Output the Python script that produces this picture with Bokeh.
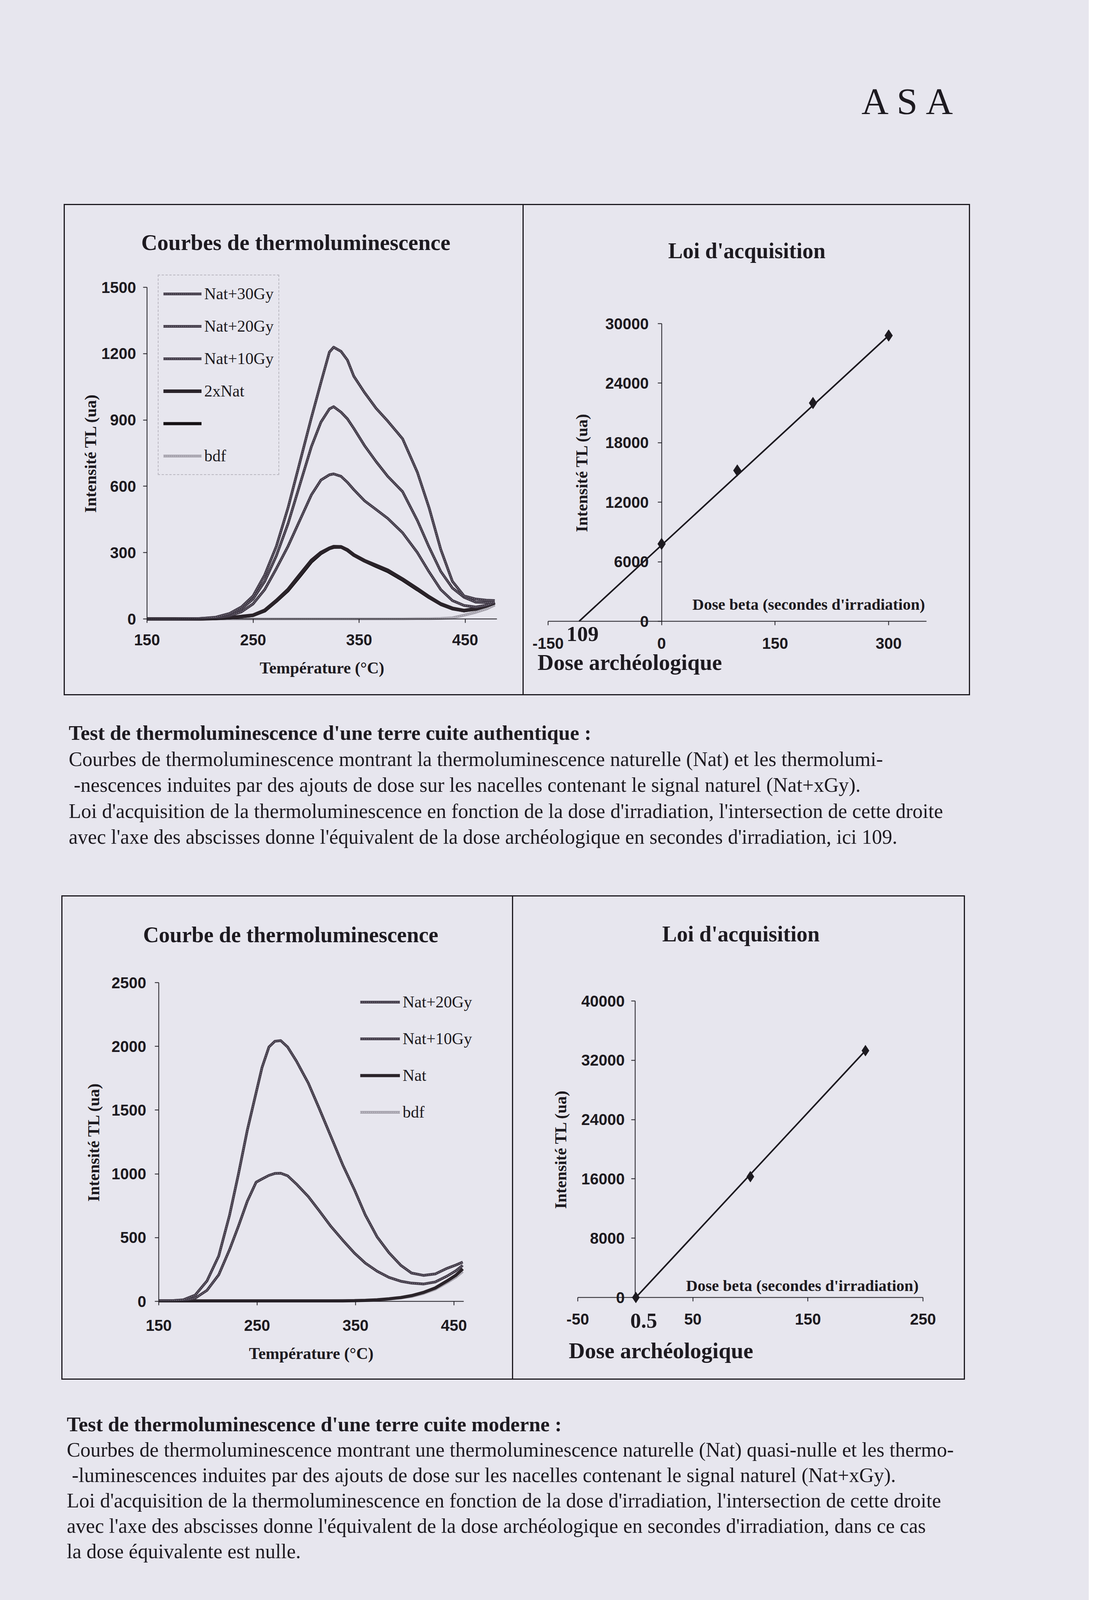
from bokeh.plotting import figure
from bokeh.models import Range1d, FixedTicker, Label, Legend, LegendItem, Div, Spacer
from bokeh.layouts import row, column
from bokeh.embed import file_html
from bokeh.resources import INLINE

BG = "#e7e6ee"
INK = "#1d1a20"
CURVE = "#433c49"
CURVE_HI = "#8a8491"
NAT2 = "#2a2329"
NAT = "#151114"
BDF = "#a4a1ab"
BDF_HI = "#d3d0d9"

# ---------------- data: authentic terracotta ----------------
tl_temp = [150, 175, 200, 215, 228, 239, 250, 261, 272, 283, 294, 305, 314, 322, 326,
           333, 339, 345, 355, 366, 377, 391, 405, 416, 427, 438, 449, 460, 470, 478]
tl_nat30 = [0, 0, 2, 8, 25, 54, 104, 199, 329, 503, 706, 910, 1069, 1207, 1229,
            1210, 1171, 1098, 1025, 953, 895, 815, 663, 503, 315, 170, 104, 90, 85, 83]
tl_nat20 = [0, 0, 2, 6, 20, 46, 90, 170, 286, 431, 605, 779, 890, 950, 960,
            935, 905, 862, 785, 712, 645, 576, 445, 325, 215, 140, 98, 76, 74, 76]
tl_nat10 = [0, 0, 1, 5, 15, 32, 68, 133, 228, 329, 445, 561, 628, 652, 656,
            645, 618, 585, 535, 495, 455, 390, 300, 213, 133, 83, 61, 54, 62, 75]
tl_2xnat = [0, 0, 0, 2, 6, 11, 17, 39, 83, 133, 199, 264, 300, 320, 327,
            326, 312, 290, 264, 242, 220, 180, 136, 100, 68, 48, 38, 46, 60, 75]
tl_nat = [0, 0, 0, 2, 5, 10, 16, 36, 80, 128, 192, 258, 296, 318, 324,
          325, 310, 288, 262, 238, 215, 176, 132, 97, 66, 46, 37, 44, 58, 72]
tl_bdf = [0, 0, 0, 0, 0, 0, 0, 0, 0, 0, 0, 0, 0, 0, 0,
          0, 0, 0, 0, 0, 0, 0, 1, 1, 2, 5, 17, 30, 45, 63]
tl_xticks = [150, 250, 350, 450]
tl_yticks = [0, 300, 600, 900, 1200, 1500]

tr_dose = [0, 100, 200, 300]
tr_tl = [7800, 15200, 22000, 28800]
tr_fit_dose = [-109, 300]
tr_fit_tl = [0, 28800]
tr_xticks = [-150, 0, 150, 300]
tr_yticks = [0, 6000, 12000, 18000, 24000, 30000]

# ---------------- data: modern terracotta ----------------
bl_temp = [150, 165, 175, 187, 199, 211, 222, 231, 240, 249, 255, 262, 268, 274, 281, 290,
           302, 313, 325, 337, 349, 360, 372, 384, 396, 407, 419, 431, 443, 452, 459]
bl_nat20 = [5, 6, 12, 49, 160, 357, 677, 998, 1342, 1638, 1835, 1995, 2040, 2045, 1995, 1884,
            1712, 1515, 1293, 1071, 874, 677, 505, 382, 283, 222, 204, 215, 259, 285, 308]
bl_nat10 = [5, 6, 10, 25, 86, 209, 406, 590, 785, 935, 960, 988, 1003, 1005, 985, 920,
            822, 712, 588, 480, 378, 300, 236, 188, 158, 143, 136, 152, 198, 240, 283]
bl_nat = [4, 4, 4, 4, 4, 4, 4, 4, 4, 4, 4, 4, 4, 4, 4, 4,
          4, 4, 4, 4, 5, 8, 12, 20, 30, 45, 70, 105, 160, 205, 255]
bl_bdf = [6, 6, 6, 6, 6, 6, 6, 6, 6, 6, 6, 6, 6, 6, 6, 6,
          6, 6, 6, 7, 8, 10, 12, 18, 27, 38, 62, 95, 148, 190, 234]
bl_xticks = [150, 250, 350, 450]
bl_yticks = [0, 500, 1000, 1500, 2000, 2500]

br_dose = [0.5, 100, 200]
br_tl = [0, 16300, 33300]
br_fit_dose = [0.5, 200]
br_fit_tl = [0, 33300]
br_xticks = [-50, 50, 150, 250]
br_yticks = [0, 8000, 16000, 24000, 32000, 40000]

para1_lines = [
    "Test de thermoluminescence d'une terre cuite authentique :",
    "Courbes de thermoluminescence montrant la thermoluminescence naturelle (Nat) et les thermolumi-",
    "&nbsp;-nescences induites par des ajouts de dose sur les nacelles contenant le signal naturel (Nat+xGy).",
    "Loi d'acquisition de la thermoluminescence en fonction de la dose d'irradiation, l'intersection de cette droite",
    "avec l'axe des abscisses donne l'équivalent de la dose archéologique en secondes d'irradiation, ici 109.",
]
para2_lines = [
    "Test de thermoluminescence d'une terre cuite moderne :",
    "Courbes de thermoluminescence montrant une thermoluminescence naturelle (Nat) quasi-nulle et les thermo-",
    "&nbsp;-luminescences induites par des ajouts de dose sur les nacelles contenant le signal naturel (Nat+xGy).",
    "Loi d'acquisition de la thermoluminescence en fonction de la dose d'irradiation, l'intersection de cette droite",
    "avec l'axe des abscisses donne l'équivalent de la dose archéologique en secondes d'irradiation, dans ce cas",
    "la dose équivalente est nulle.",
]


def frame_fig(x0, y0, w, h, fl, fr, ft, fb, xr, yr, yaxis_at):
    """Figure whose whole canvas is the frame; the axes sit at fixed locations
    so that nothing placed around the plot area is clipped."""
    kx = (fr - fl) / (xr[1] - xr[0])
    ky = (fb - ft) / (yr[1] - yr[0])
    xs = xr[0] - (fl - x0) / kx
    xe = xr[1] + (x0 + w - fr) / kx
    ys = yr[0] - (y0 + h - fb) / ky
    ye = yr[1] + (ft - y0) / ky
    p = figure(width=w, height=h, x_range=Range1d(xs, xe), y_range=Range1d(ys, ye),
               output_backend="svg", toolbar_location=None, min_border=0,
               background_fill_color=BG, border_fill_color=BG, outline_line_color=None)
    p.grid.visible = False
    p.xaxis.fixed_location = yr[0]
    p.xaxis.bounds = tuple(xr)
    p.yaxis.fixed_location = yaxis_at
    p.yaxis.bounds = tuple(yr)
    for ax in p.axis:
        ax.axis_line_color = INK
        ax.axis_line_width = 2
        ax.major_tick_line_color = INK
        ax.major_tick_line_width = 2
        ax.major_tick_in = 0
        ax.major_tick_out = 10
        ax.minor_tick_line_color = None
        ax.major_label_text_font = "Liberation Sans"
        ax.major_label_text_font_style = "bold"
        ax.major_label_text_font_size = "40px"
        ax.major_label_text_color = INK
        ax.axis_label_text_font = "Liberation Serif"
        ax.axis_label_text_font_style = "bold"
        ax.axis_label_text_font_size = "42px"
        ax.axis_label_text_color = INK
    return p


def lab(p, x, y, text, size, align="left"):
    p.add_layout(Label(x=x, y=y, y_offset=19, text=text, text_font="Liberation Serif",
                       text_font_size=f"{size}px", text_font_style="bold",
                       text_color=INK, text_align=align, text_baseline="alphabetic"))


def textured(p, xs, ys, base, hi, w):
    r1 = p.line(xs, ys, line_color=base, line_width=w, line_join="round")
    r2 = p.line(xs, ys, line_color=hi, line_width=max(2, w // 3), line_dash="2 3")
    return [r1, r2]


def style_legend(lg, spacing):
    lg.label_text_font = "Liberation Serif"
    lg.label_text_font_size = "42px"
    lg.label_text_color = INK
    lg.label_height = 70
    lg.glyph_height = 40
    lg.spacing = spacing
    lg.padding = 12
    lg.margin = 0
    lg.label_standoff = 7
    lg.background_fill_alpha = 0


# ---------------- top-left ----------------
X0, Y0 = 174, 533
p_tl = frame_fig(X0, Y0, 1172, 1252, 384, 1280, 743, 1592, (150, 480), (0, 1500), 150)
p_tl.xaxis.ticker = FixedTicker(ticks=tl_xticks)
p_tl.yaxis.ticker = FixedTicker(ticks=tl_yticks)
p_tl.xaxis.axis_label = "Température (°C)"
p_tl.yaxis.axis_label = "Intensité TL (ua)"
p_tl.yaxis.major_label_standoff = 18
p_tl.yaxis.axis_label_standoff = 2
p_tl.xaxis.major_label_standoff = 29
p_tl.xaxis.axis_label_standoff = 32

r_bdf = textured(p_tl, tl_temp, tl_bdf, BDF, BDF_HI, 7)
r_nat = [p_tl.line(tl_temp, tl_nat, line_color=NAT, line_width=8)]
r_2x = [p_tl.line(tl_temp, tl_2xnat, line_color=NAT2, line_width=9)]
r_10 = textured(p_tl, tl_temp, tl_nat10, CURVE, CURVE_HI, 7)
r_20 = textured(p_tl, tl_temp, tl_nat20, CURVE, CURVE_HI, 7)
r_30 = textured(p_tl, tl_temp, tl_nat30, CURVE, CURVE_HI, 7)

lg1 = Legend(items=[LegendItem(label="Nat+30Gy", renderers=r_30),
                    LegendItem(label="Nat+20Gy", renderers=r_20),
                    LegendItem(label="Nat+10Gy", renderers=r_10),
                    LegendItem(label="2xNat", renderers=r_2x),
                    LegendItem(label=" ", renderers=r_nat),
                    LegendItem(label="bdf", renderers=r_bdf)],
             location=(412 - X0, Y0 + 1252 - 1224))
style_legend(lg1, 13)
lg1.glyph_width = 98
lg1.border_line_color = "#8d8a94"
lg1.border_line_dash = "2 3"
lg1.border_line_width = 2
p_tl.add_layout(lg1)
lab(p_tl, 290.3, 1669.6, "Courbes de thermoluminescence", 57, "center")

# ---------------- top-right ----------------
p_tr = frame_fig(1349, 533, 1140, 1252, 1411, 2380, 836, 1598, (-150, 350), (0, 30000), 0)
p_tr.xaxis.ticker = FixedTicker(ticks=tr_xticks)
p_tr.yaxis.ticker = FixedTicker(ticks=tr_yticks)
p_tr.xaxis.major_label_overrides = {-150: "-150"}
p_tr.yaxis.axis_label = "Intensité TL (ua)"
p_tr.yaxis.major_label_standoff = 23
p_tr.yaxis.axis_label_standoff = 34
p_tr.xaxis.major_label_standoff = 32
p_tr.line(tr_fit_dose, tr_fit_tl, line_color=INK, line_width=4)
p_tr.scatter(tr_dose, tr_tl, marker="diamond", size=30, color=INK)
lab(p_tr, 112.6, 36575, "Loi d'acquisition", 56, "center")
lab(p_tr, 348, 984, "Dose beta (secondes d'irradiation)", 41, "right")
lab(p_tr, -125.7, -2008, "109", 55)
lab(p_tr, -163.9, -4882, "Dose archéologique", 57)

# ---------------- bottom-left ----------------
X2, Y2 = 168, 2313
p_bl = frame_fig(X2, Y2, 1151, 1234, 414, 1195, 2533, 3349, (150, 460), (0, 2500), 150)
p_bl.xaxis.ticker = FixedTicker(ticks=bl_xticks)
p_bl.yaxis.ticker = FixedTicker(ticks=bl_yticks)
p_bl.xaxis.axis_label = "Température (°C)"
p_bl.yaxis.axis_label = "Intensité TL (ua)"
p_bl.yaxis.major_label_standoff = 22
p_bl.yaxis.axis_label_standoff = 20
p_bl.xaxis.major_label_standoff = 37
p_bl.xaxis.axis_label_standoff = 32

b_bdf = textured(p_bl, bl_temp, bl_bdf, BDF, BDF_HI, 7)
b_nat = [p_bl.line(bl_temp, bl_nat, line_color=NAT2, line_width=8)]
b_10 = textured(p_bl, bl_temp, bl_nat10, CURVE, CURVE_HI, 7)
b_20 = textured(p_bl, bl_temp, bl_nat20, CURVE, CURVE_HI, 7)
lg2 = Legend(items=[LegendItem(label="Nat+20Gy", renderers=b_20),
                    LegendItem(label="Nat+10Gy", renderers=b_10),
                    LegendItem(label="Nat", renderers=b_nat),
                    LegendItem(label="bdf", renderers=b_bdf)],
             location=(930 - X2, Y2 + 1234 - 2900))
style_legend(lg2, 24)
lg2.glyph_width = 102
lg2.border_line_color = None
p_bl.add_layout(lg2)
lab(p_bl, 284.1, 2818.6, "Courbe de thermoluminescence", 56, "center")

# ---------------- bottom-right ----------------
p_br = frame_fig(1322, 2313, 1154, 1234, 1487, 2371, 2580, 3339, (-50, 250), (0, 40000), 0)
p_br.xaxis.ticker = FixedTicker(ticks=br_xticks)
p_br.yaxis.ticker = FixedTicker(ticks=br_yticks)
p_br.xaxis.major_label_overrides = {-50: "-50"}
p_br.yaxis.axis_label = "Intensité TL (ua)"
p_br.yaxis.major_label_standoff = 17
p_br.yaxis.axis_label_standoff = 26
p_br.xaxis.major_label_standoff = 31
p_br.line(br_fit_dose, br_fit_tl, line_color=INK, line_width=4)
p_br.scatter(br_dose, br_tl, marker="diamond", size=28, color=INK)
lab(p_br, 91.8, 48063, "Loi d'acquisition", 56, "center")
lab(p_br, 246.2, 600, "Dose beta (secondes d'irradiation)", 41, "right")
lab(p_br, 7.3, -4111, "0.5", 55, "center")
lab(p_br, -57.8, -8169, "Dose archéologique", 57)

# ---------------- page layout ----------------
header = Div(width=2788, height=522, margin=0,
             text=("<div style=\"padding-left:2206px;padding-top:212px;font-family:'Liberation Serif';"
                   f"font-size:96px;letter-spacing:21px;line-height:1;color:{INK};white-space:nowrap\">ASA</div>"))


def para(lines, pad_left, pad_top, h, lh):
    body = "<br>".join(
        (f"<b style=\"font-size:53px\">{ln}</b>" if i == 0 else ln) for i, ln in enumerate(lines))
    return Div(width=2788, height=h, margin=0,
               text=(f"<div style=\"padding-left:{pad_left}px;padding-top:{pad_top}px;"
                     f"font-family:'Liberation Serif';font-size:52px;line-height:{lh}px;"
                     f"color:{INK};white-space:nowrap\">{body}</div>"))


box_border = {"border": f"3px solid {INK}"}
top_box = row(p_tl, Spacer(width=3, height=1252, margin=0, styles={"background-color": INK}), p_tr,
              styles=box_border)
bot_box = row(p_bl, Spacer(width=3, height=1234, margin=0, styles={"background-color": INK}), p_br,
              styles=box_border)

root = column(header,
              row(Spacer(width=163, height=1258, margin=0), top_box),
              para(para1_lines, 176, 63, 512, 66.5),
              row(Spacer(width=157, height=1240, margin=0), bot_box),
              para(para2_lines, 171, 82, 700, 65),
              styles={"background-color": BG})

open("out.html", "w").write(file_html(root, INLINE))
